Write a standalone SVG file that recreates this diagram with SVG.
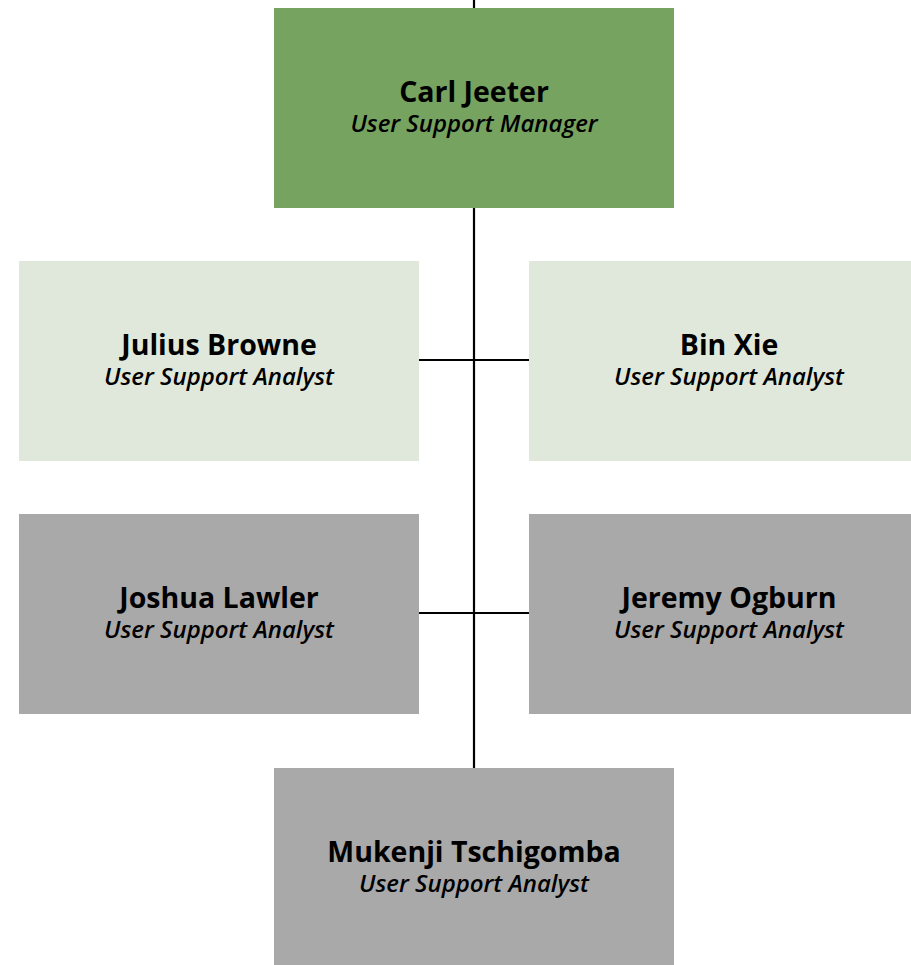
<svg xmlns="http://www.w3.org/2000/svg" width="911" height="965" viewBox="0 0 911 965">
<style>
.name{font-family:"Open Sans","Noto Sans",sans-serif;font-weight:bold;font-size:28.5px;fill:#000;text-anchor:middle}
.title{font-family:"Open Sans","Noto Sans",sans-serif;font-style:italic;font-weight:600;font-size:24px;fill:#000;text-anchor:middle}
.conn{stroke:#000;stroke-width:2.2;fill:none}
</style>
<rect width="911" height="965" fill="#fff"/>
<g id="connectors">
<line class="conn" x1="474" y1="0" x2="474" y2="768"/>
<line class="conn" x1="419" y1="360" x2="529" y2="360"/>
<line class="conn" x1="419" y1="613" x2="529" y2="613"/>
</g>
<g id="carl">
<rect x="274" y="8" width="400" height="200" fill="#76a35f"/>
<text class="name" x="474" y="102">Carl Jeeter</text>
<text class="title" x="474" y="132">User Support Manager</text>
</g>
<g id="julius">
<rect x="19" y="261" width="400" height="200" fill="#dfe8db"/>
<text class="name" x="219" y="355">Julius Browne</text>
<text class="title" x="219" y="385">User Support Analyst</text>
</g>
<g id="bin">
<rect x="529" y="261" width="400" height="200" fill="#dfe8db"/>
<text class="name" x="729" y="355">Bin Xie</text>
<text class="title" x="729" y="385">User Support Analyst</text>
</g>
<g id="joshua">
<rect x="19" y="514" width="400" height="200" fill="#a9a9a9"/>
<text class="name" x="219" y="608">Joshua Lawler</text>
<text class="title" x="219" y="638">User Support Analyst</text>
</g>
<g id="jeremy">
<rect x="529" y="514" width="400" height="200" fill="#a9a9a9"/>
<text class="name" x="729" y="608">Jeremy Ogburn</text>
<text class="title" x="729" y="638">User Support Analyst</text>
</g>
<g id="mukenji">
<rect x="274" y="768" width="400" height="200" fill="#a9a9a9"/>
<text class="name" x="474" y="862">Mukenji Tschigomba</text>
<text class="title" x="474" y="892">User Support Analyst</text>
</g>
</svg>
